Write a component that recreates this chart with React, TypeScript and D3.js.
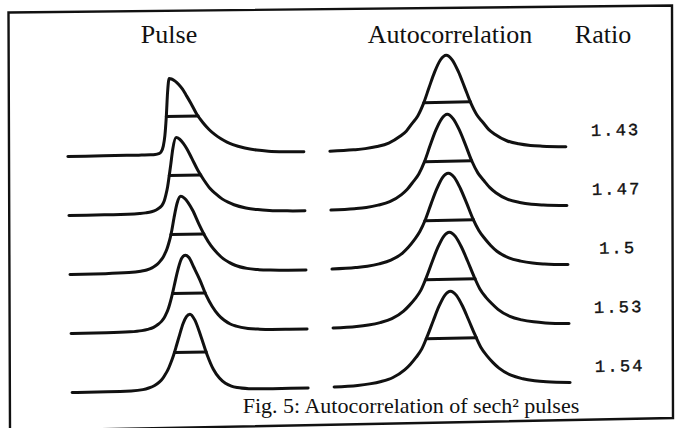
import React from 'react'
import * as d3 from 'd3'

// headings, row ratios (autocorrelation width / pulse width) and caption
const headings = ['Pulse', 'Autocorrelation', 'Ratio']
const ratios = ['1.43', '1.47', '1.5', '1.53', '1.54']
const caption = 'Fig. 5: Autocorrelation of sech\u00b2 pulses'

// pulse intensity (peak = 1), sampled at these times, one array per row
const pulseTimes = [-10, -7, -5, -4, -3.5, -3, -2.6, -2.3, -2.1, -1.9, -1.75, -1.6, -1.45, -1.3, -1.1, -0.8,
    -0.5, -0.2, 0.1, 0.5, 1, 1.5, 2, 2.5, 3, 3.5, 4, 5, 6, 7, 8.5, 10]
const pulse1 = [0, 0, 0, 0, 0, 0.001, 0.004, 0.014, 0.036, 0.112, 0.25, 0.5, 0.83, 1, 0.993, 0.965,
    0.92, 0.86, 0.78, 0.67, 0.52, 0.41, 0.32, 0.25, 0.195, 0.15, 0.115, 0.068, 0.038, 0.02, 0.008, 0.003]
const pulse2 = [0, 0, 0.002, 0.008, 0.015, 0.028, 0.05, 0.08, 0.11, 0.17, 0.25, 0.35, 0.49, 0.64, 0.85, 0.998,
    0.975, 0.92, 0.845, 0.72, 0.56, 0.43, 0.32, 0.245, 0.18, 0.135, 0.1, 0.055, 0.03, 0.016, 0.006, 0.002]
const pulse3 = [0, 0.002, 0.01, 0.025, 0.04, 0.07, 0.11, 0.16, 0.2, 0.26, 0.31, 0.38, 0.46, 0.56, 0.72, 0.92,
    1, 0.975, 0.92, 0.81, 0.63, 0.47, 0.34, 0.245, 0.17, 0.12, 0.08, 0.036, 0.016, 0.007, 0.002, 0]
const pulse4 = [0, 0.002, 0.008, 0.02, 0.035, 0.06, 0.1, 0.14, 0.18, 0.24, 0.29, 0.36, 0.44, 0.53, 0.66, 0.84,
    0.965, 1, 0.97, 0.84, 0.67, 0.47, 0.32, 0.21, 0.135, 0.085, 0.055, 0.022, 0.009, 0.003, 0.001, 0]
const pulse5 = [0, 0.001, 0.006, 0.02, 0.04, 0.072, 0.115, 0.164, 0.21, 0.261, 0.308, 0.363, 0.422, 0.488, 0.585, 0.735,
    0.876, 0.969, 1, 0.924, 0.705, 0.46, 0.27, 0.153, 0.083, 0.044, 0.023, 0.006, 0.0015, 0, 0, 0]

// autocorrelation (symmetric, peak = 1), sampled at these delays >= 0
const delays = [0, 0.5, 1, 1.5, 2, 2.5, 3, 3.5, 4, 5, 6, 7, 8, 10]
const auto1 = [1, 0.95, 0.825, 0.66, 0.49, 0.36, 0.28, 0.2, 0.15, 0.078, 0.043, 0.023, 0.013, 0.003]
const auto2 = [1, 0.95, 0.83, 0.67, 0.5, 0.37, 0.287, 0.21, 0.155, 0.082, 0.047, 0.025, 0.014, 0.004]
const auto3 = [1, 0.955, 0.835, 0.68, 0.515, 0.385, 0.295, 0.22, 0.16, 0.087, 0.05, 0.027, 0.015, 0.004]
const auto4 = [1, 0.955, 0.84, 0.69, 0.53, 0.39, 0.3, 0.23, 0.17, 0.092, 0.053, 0.03, 0.016, 0.005]
const auto5 = [1, 0.955, 0.84, 0.69, 0.535, 0.395, 0.305, 0.232, 0.172, 0.094, 0.054, 0.031, 0.017, 0.005]

const pulses = [pulse1, pulse2, pulse3, pulse4, pulse5]
const autos = [auto1, auto2, auto3, auto4, auto5]

const W = 679
const H = 428
const ink = '#111'
const serif = '"Liberation Serif", "Times New Roman", serif'
const mono = '"Liberation Mono", "Courier New", monospace'

// the scanned figure is slightly skewed
const skew = 'translate(340,214) matrix(1,-0.0192,0.018,1,0,0) translate(-340,-214)'

const pulseX = d3.scaleLinear().domain([-10, 10]).range([69, 305])
const autoX = d3.scaleLinear().domain([-10, 10]).range([331, 567])
const rowY = d3.scaleLinear().domain([0, 4]).range([151.3, 387.3])
const pulseH = d3.scaleLinear().domain([0, 1]).range([0, 76])
const autoH = d3.scaleLinear().domain([0, 1]).range([0, 94])

// where a sampled curve crosses half maximum, left and right of the peak
function halfPoints(ts: number[], vs: number[]): [number, number] {
    const peak = vs.indexOf(d3.max(vs) as number)
    let left = ts[0]
    let right = ts[ts.length - 1]
    for (let i = peak; i > 0; i--) {
        if (vs[i - 1] < 0.5 && vs[i] >= 0.5) {
            left = ts[i - 1] + (0.5 - vs[i - 1]) / (vs[i] - vs[i - 1]) * (ts[i] - ts[i - 1])
            break
        }
    }
    for (let i = peak; i < vs.length - 1; i++) {
        if (vs[i] >= 0.5 && vs[i + 1] < 0.5) {
            right = ts[i] + (vs[i] - 0.5) / (vs[i] - vs[i + 1]) * (ts[i + 1] - ts[i])
            break
        }
    }
    return [left, right]
}

export default function App() {
    const rows = pulses.map((vals, i) => {
        const base = rowY(i)
        const pulsePts: [number, number][] = pulseTimes.map((t, k) => [t, vals[k]])
        const autoVals = autos[i]
        const autoPts: [number, number][] = [
            ...delays.slice(1).reverse().map((d, k) => [-d, autoVals[delays.length - 1 - k]] as [number, number]),
            ...delays.map((d, k) => [d, autoVals[k]] as [number, number])
        ]
        const pulseLine = d3.line<[number, number]>()
            .x((d) => pulseX(d[0]))
            .y((d) => base - pulseH(d[1]))
            .curve(d3.curveMonotoneX)
        const autoLine = d3.line<[number, number]>()
            .x((d) => autoX(d[0]))
            .y((d) => base - autoH(d[1]))
            .curve(d3.curveMonotoneX)
        const [pl, pr] = halfPoints(pulseTimes, vals)
        const [al, ar] = halfPoints(autoPts.map((p) => p[0]), autoPts.map((p) => p[1]))
        return {
            base,
            pulsePath: pulseLine(pulsePts) || '',
            autoPath: autoLine(autoPts) || '',
            pulseHalf: [pulseX(pl), pulseX(pr), base - pulseH(0.5)],
            autoHalf: [autoX(al), autoX(ar), base - autoH(0.5)]
        }
    })

    return (
        <svg width={W} height={H} style={{ position: 'absolute', left: 0, top: 0, background: '#fff' }}>
            <rect width={W} height={H} fill="#fff" />
            {/* frame */}
            <path d="M8.5,12.5 L672,5.5 L673,418 L10,431 Z" fill="none" stroke={ink} strokeWidth={2.4} />

            {/* column headings */}
            {headings.map((h, i) => (
                <text key={h} x={[169, 450, 603][i]} y={43} textAnchor="middle"
                    fontFamily={serif} fontSize={26} fill={ink}>{h}</text>
            ))}

            <g transform={skew} fill="none" stroke={ink} strokeWidth={3} strokeLinecap="round" strokeLinejoin="round">
                {rows.map((r, i) => (
                    <g key={i}>
                        <path d={r.pulsePath} />
                        <line x1={r.pulseHalf[0]} x2={r.pulseHalf[1]} y1={r.pulseHalf[2]} y2={r.pulseHalf[2]} />
                        <path d={r.autoPath} />
                        <line x1={r.autoHalf[0]} x2={r.autoHalf[1]} y1={r.autoHalf[2]} y2={r.autoHalf[2]} />
                        <text x={617} y={r.base - 10.5} textAnchor="middle" fontFamily={mono} fontSize={17}
                            letterSpacing={2.2} fill={ink} stroke={ink} strokeWidth={0.4}>{ratios[i]}</text>
                    </g>
                ))}
            </g>

            {/* caption */}
            <text x={411} y={413} textAnchor="middle" fontFamily={serif} fontSize={22} fill={ink}>{caption}</text>
        </svg>
    )
}
